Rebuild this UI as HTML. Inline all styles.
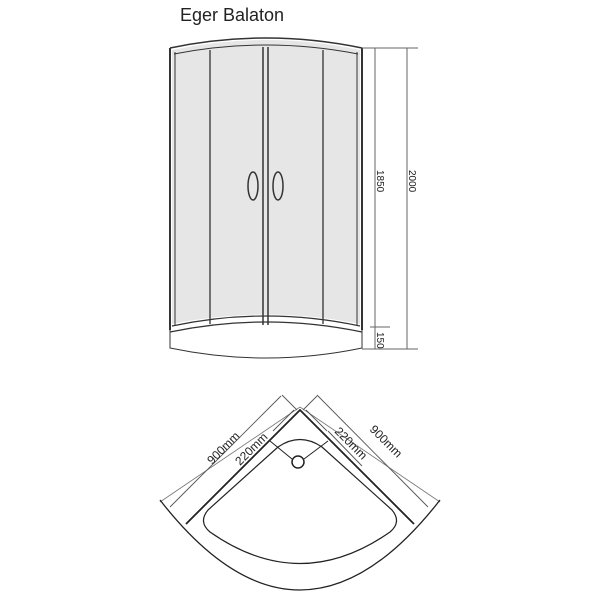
<!DOCTYPE html>
<html><head><style>
body{margin:0;background:#fff;width:600px;height:600px;overflow:hidden}
svg{display:block}
text{font-family:"Liberation Sans",sans-serif;fill:#222}
</style></head><body>
<svg width="600" height="600" viewBox="0 0 600 600">
<text x="180" y="21" font-size="18">Eger Balaton</text>
<path d="M172 50 Q266 30 360 50 L360 324 Q266 305 172 324 Z" fill="#e6e6e6"/>
<path d="M170 48 Q266 28 362 48" fill="none" stroke="#333" stroke-width="1.5"/>
<path d="M174 54 Q266 36 358 54" fill="none" stroke="#333" stroke-width="1"/>
<g stroke="#333" fill="none">
<line x1="170" y1="48" x2="170" y2="330" stroke-width="2"/>
<line x1="175" y1="52" x2="175" y2="326"/>
<line x1="362" y1="48" x2="362" y2="330" stroke-width="2"/>
<line x1="357" y1="52" x2="357" y2="326"/>
<line x1="210" y1="50" x2="210" y2="324" stroke-width="1.3"/>
<line x1="323" y1="50" x2="323" y2="324" stroke-width="1.3"/>
<line x1="263" y1="47" x2="263" y2="325" stroke-width="1.5"/>
<line x1="268" y1="47" x2="268" y2="325" stroke-width="1.5"/>
<ellipse cx="253" cy="186" rx="5" ry="14" stroke-width="1.5"/>
<ellipse cx="278" cy="186" rx="5" ry="14" stroke-width="1.5"/>
<path d="M172 326 Q266 306 360 326" stroke-width="1.2"/>
<path d="M170 332 Q266 312 362 332" stroke-width="1.2"/>
<path d="M170 330 L170 348 Q266 368 362 348 L362 330"/>
<line x1="362" y1="48" x2="418" y2="48" stroke="#666"/>
<line x1="362" y1="349" x2="418" y2="349" stroke="#666"/>
<line x1="370" y1="327" x2="390" y2="327" stroke="#666"/>
<line x1="375" y1="48" x2="375" y2="349" stroke="#666"/>
<line x1="407" y1="48" x2="407" y2="349" stroke="#666"/>
</g>
<text font-size="10" transform="translate(377,170) rotate(90)">1850</text>
<text font-size="10" transform="translate(409,170) rotate(90)">2000</text>
<text font-size="10" transform="translate(377,332) rotate(90)">150</text>
<g fill="none" stroke="#222">
<path d="M160 502 L300 407 M440 502 L300 407" stroke="#777" stroke-width="0.8"/>
<path d="M186 524 L300 410 L414 524" stroke-width="1.8"/>
<path d="M160 500 Q300 680 440 500" stroke-width="1.3"/>
<path d="M278 447 Q300 432 322 447 L392 510 Q402 522 390 532 Q300 595 210 532 Q198 522 208 510 Z" stroke-width="1.2"/>
<circle cx="298" cy="462" r="6" stroke-width="1.5"/>
<line x1="270" y1="441" x2="292" y2="459"/>
<line x1="328" y1="441" x2="304" y2="459"/>
<g stroke="#555" stroke-width="0.9">
<line x1="170" y1="507" x2="281" y2="396"/>
<line x1="318" y1="396" x2="428" y2="507"/>
<line x1="273" y1="431" x2="294" y2="410"/>
<line x1="306" y1="410" x2="327" y2="431"/>
<line x1="282" y1="395" x2="297" y2="410"/>
<line x1="318" y1="395" x2="303" y2="410"/>
<line x1="328" y1="431" x2="362" y2="466"/>
</g>
</g>
<text font-size="12" transform="translate(212,465) rotate(-45)">900mm</text>
<text font-size="12" transform="translate(240,466) rotate(-45)">220mm</text>
<text font-size="12" transform="translate(334,432) rotate(45)">220mm</text>
<text font-size="12" transform="translate(369,430) rotate(45)">900mm</text>
</svg>
</body></html>
